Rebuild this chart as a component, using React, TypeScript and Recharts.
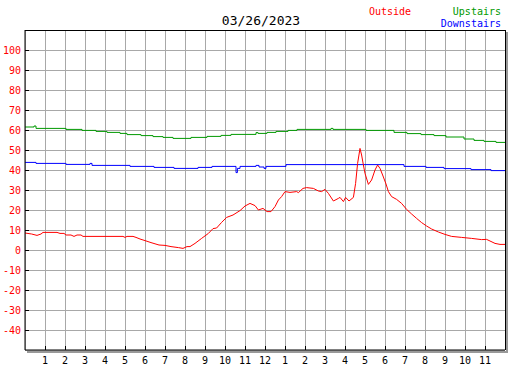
import React from 'react';
import { LineChart, Line, XAxis, YAxis, CartesianGrid, ReferenceLine } from 'recharts';

// hours since midnight
const outsideHours = [
  0, 0.33, 0.6, 0.8, 0.9, 1.6, 1.75, 1.95, 2.05, 2.3, 2.45, 2.6, 2.8, 2.9, 4.9, 5.0, 5.1, 5.4, 5.55, 5.75,
  6.0, 6.3, 6.7, 7.0, 7.3, 7.67, 7.9, 8.1, 8.25, 8.5, 8.83, 9.17, 9.4, 9.58, 9.83, 10.08, 10.4, 10.75,
  11.0, 11.25, 11.5, 11.67, 11.9, 12.1, 12.3, 12.5, 12.67, 12.83, 13.0, 13.25, 13.58, 13.67, 13.9, 14.08,
  14.42, 14.67, 14.83, 15.0, 15.17, 15.42, 15.67, 15.75, 15.92, 16.03, 16.2, 16.42, 16.53, 16.63, 16.75,
  16.83, 16.92, 17.0, 17.17, 17.33, 17.5, 17.63, 17.75, 17.9, 18.05, 18.17, 18.33, 18.58, 18.83, 19.08,
  19.33, 19.58, 19.83, 20.08, 20.33, 20.67, 21.0, 21.33, 21.83, 22.33, 22.83, 23.08, 23.25, 23.5, 23.75, 24,
];
const outsideTemps = [
  8.5, 8.0, 7.3, 8.0, 8.8, 8.8, 8.3, 8.3, 7.5, 7.5, 6.8, 7.5, 7.5, 6.8, 6.8, 6.3, 6.8, 6.8, 6.3, 5.5,
  4.7, 3.7, 2.5, 2.3, 1.7, 1.2, 0.8, 1.7, 1.7, 3.3, 5.8, 8.3, 10.7, 11, 13.8, 16.3, 17.5, 19.7,
  22, 23.3, 22.2, 20, 20.8, 19.2, 19.2, 21.7, 25, 26.7, 29.2, 28.8, 29.2, 28.7, 30.8, 31.2,
  30.8, 29.5, 29.2, 30.3, 28.3, 24.5, 25.8, 26.3, 24.2, 26.3, 24.5, 26.3, 33.3, 43.3, 50.8,
  47.5, 42.5, 38.3, 32.8, 35, 40, 42.5, 40.8, 37, 33, 29.2, 26.7, 25.3, 23.3, 20.3,
  18, 15.8, 13.7, 12, 10.5, 9, 7.8, 6.8, 6.3, 5.8, 5.2, 5.3, 4.5, 3.3, 2.8, 2.8,
];

const upstairsHours = [
  0, 0.45, 0.55, 2.05, 2.85, 3.55, 4.1, 4.75, 5.1, 5.8, 6.4, 6.9, 7.4, 8.3, 9.1, 9.8, 10.3, 11.55, 11.65,
  12.1, 12.55, 13.15, 13.6, 15.3, 15.4, 17.05, 18.45, 19.1, 19.8, 20.45, 21.05, 21.95, 22.45, 22.95, 23.55, 24,
];
const upstairsTemps = [
  61.5, 62, 60.8, 60.3, 59.8, 59.3, 58.8, 58.3, 57.7, 57.2, 56.7, 56.3, 55.8, 56.3, 56.8, 57.3, 57.8, 58.7, 58.3,
  58.8, 59.3, 59.8, 60.3, 60.8, 60.3, 59.8, 58.8, 58.2, 57.7, 57.2, 56.5, 55.5, 54.8, 54.3, 53.8, 53.8,
];

const downstairsHours = [
  0, 0.55, 2.05, 3.25, 3.35, 5.25, 6.45, 7.45, 8.65, 9.35, 10.55, 10.62, 10.75, 11.55, 11.7, 11.95, 12.05,
  13.05, 18.95, 20.05, 20.95, 22.3, 23.3, 24,
];
const downstairsTemps = [
  43.8, 43.3, 42.8, 43.3, 42.3, 41.8, 41.3, 40.8, 41.3, 41.8, 38.7, 40.8, 41.8, 42.3, 41.5, 40.8, 41.8,
  42.7, 41.8, 41.3, 40.7, 40.2, 39.7, 39.7,
];

const hourTicks = [1, 2, 3, 4, 5, 6, 7, 8, 9, 10, 11, 12, 13, 14, 15, 16, 17, 18, 19, 20, 21, 22, 23];
const tempTicks = [-40, -30, -20, -10, 0, 10, 20, 30, 40, 50, 60, 70, 80, 90, 100];

const FONT = '"DejaVu Sans Mono", "Liberation Mono", monospace';
const RED = '#ff0000';
const GREEN = '#009900';
const BLUE = '#0000ff';

const toRows = (hours: number[], temps: number[]) => hours.map((h, i) => ({ hour: h, temp: temps[i] }));

const hourLabel = (h: number) => String(h % 12 === 0 ? 12 : h % 12);

const TempTick = ({ x, y, payload }: any) => (
  <g>
    <line x1={x} x2={x + 4} y1={y} y2={y} stroke="#000" shapeRendering="crispEdges" />
    <text x={x - 4} y={y + 4} textAnchor="end" fill={RED} fontSize={10} fontFamily={FONT}>
      {payload.value}
    </text>
  </g>
);

const HourTick = ({ x, y, payload }: any) => (
  <g>
    <line x1={x} x2={x} y1={y - 4} y2={y} stroke="#000" shapeRendering="crispEdges" />
    <text x={x} y={y + 14} textAnchor="middle" fill="#000" fontSize={10} fontFamily={FONT}>
      {hourLabel(payload.value)}
    </text>
  </g>
);

// right edge of the frame with its grey drop shadow
const RightEdge = ({ x1, y1, y2 }: any) => (
  <g shapeRendering="crispEdges">
    <line x1={x1} x2={x1} y1={Math.min(y1, y2)} y2={Math.max(y1, y2)} stroke="#000" />
    <rect x={x1 + 1} y={Math.min(y1, y2) + 2} width={2} height={Math.abs(y2 - y1) + 1} fill="#999" />
  </g>
);

const BottomShadow = ({ x1, x2, y1 }: any) => (
  <rect x={Math.min(x1, x2) + 2} y={y1 + 1} width={Math.abs(x2 - x1) + 1} height={2} fill="#999" shapeRendering="crispEdges" />
);

const App: React.FC = () => {
  return (
    <div style={{ position: 'absolute', left: 0, top: 0, width: 527, height: 370, background: '#fff' }}>
      <LineChart width={527} height={370} margin={{ top: 30, right: 22, left: 0, bottom: 0 }}>
        <CartesianGrid stroke="#a8a8a8" shapeRendering="crispEdges" />
        <XAxis
          type="number"
          dataKey="hour"
          domain={[0, 24]}
          ticks={hourTicks}
          interval={0}
          allowDataOverflow
          height={20}
          tickLine={false}
          tickSize={0}
          tickMargin={0}
          axisLine={{ stroke: '#000' }}
          tick={<HourTick />}
        />
        <YAxis
          type="number"
          domain={[-50, 110]}
          ticks={tempTicks}
          interval={0}
          allowDataOverflow
          width={25}
          tickLine={false}
          tickSize={0}
          tickMargin={0}
          axisLine={{ stroke: '#000' }}
          tick={<TempTick />}
        />
        <ReferenceLine y={110} stroke="#000" shapeRendering="crispEdges" />
        <ReferenceLine x={24} shape={<RightEdge />} />
        <ReferenceLine y={-50} shape={<BottomShadow />} />
        <Line
          data={toRows(upstairsHours, upstairsTemps)}
          dataKey="temp"
          type="stepAfter"
          stroke={GREEN}
          strokeWidth={1}
          dot={false}
          isAnimationActive={false}
        />
        <Line
          data={toRows(downstairsHours, downstairsTemps)}
          dataKey="temp"
          type="stepAfter"
          stroke={BLUE}
          strokeWidth={1}
          dot={false}
          isAnimationActive={false}
        />
        <Line
          data={toRows(outsideHours, outsideTemps)}
          dataKey="temp"
          type="linear"
          stroke={RED}
          strokeWidth={1}
          dot={false}
          isAnimationActive={false}
        />
      </LineChart>
      <svg width={527} height={370} style={{ position: 'absolute', left: 0, top: 0, pointerEvents: 'none' }}>
        <text x={261} y={25} textAnchor="middle" fontSize={13} fontFamily={FONT} fill="#000">
          03/26/2023
        </text>
        <text x={369} y={15} fontSize={10} fontFamily={FONT} fill={RED}>
          Outside
        </text>
        <text x={501} y={15} textAnchor="end" fontSize={10} fontFamily={FONT} fill={GREEN}>
          Upstairs
        </text>
        <text x={501} y={27} textAnchor="end" fontSize={10} fontFamily={FONT} fill={BLUE}>
          Downstairs
        </text>
      </svg>
    </div>
  );
};

export default App;
